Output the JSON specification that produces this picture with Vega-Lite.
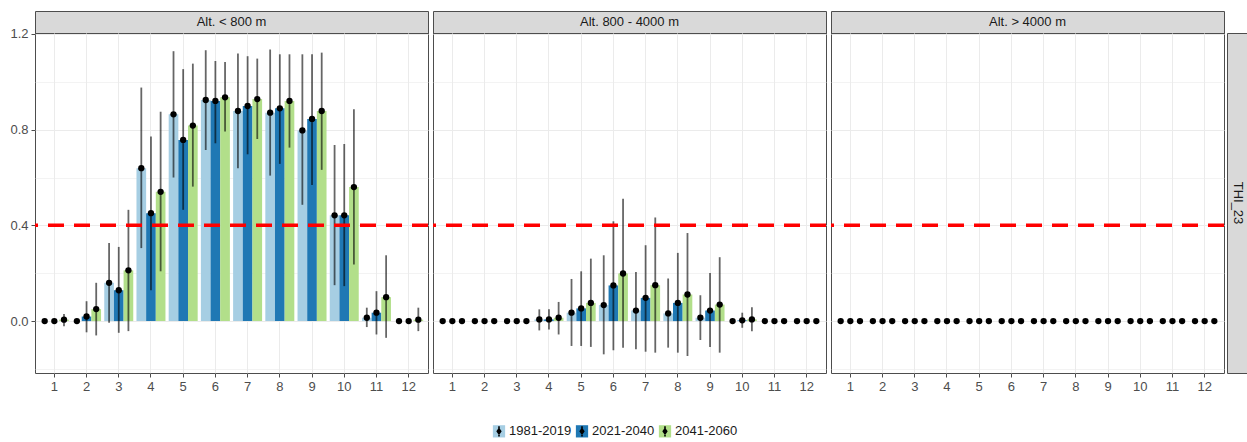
{
  "$schema": "https://vega.github.io/schema/vega-lite/v6.json",
  "padding": {"left": 9, "top": 10, "right": 1, "bottom": 4},
  "config": {
    "font": "Liberation Sans",
    "view": {"stroke": "#4d4d4d", "strokeWidth": 1},
    "axis": {"labelColor": "#4d4d4d", "labelFontSize": 13, "tickColor": "#4d4d4d", "tickSize": 4, "domain": false, "gridColor": "#ebebeb", "title": null, "labelPadding": 3}
  },
  "datasets": {
    "panels": [{"alt": "Alt. < 800 m"}, {"alt": "Alt. 800 - 4000 m"}, {"alt": "Alt. > 4000 m"}],
    "vars": [{"var": "THI_23"}],
    "threshold": [{"y": 0.4}],
    "thi": [
      {"alt":"Alt. < 800 m","month":1,"period":"1981-2019","value":0,"lo":0,"hi":0},
      {"alt":"Alt. < 800 m","month":1,"period":"2021-2040","value":0,"lo":0,"hi":0},
      {"alt":"Alt. < 800 m","month":1,"period":"2041-2060","value":0.006,"lo":-0.022,"hi":0.03},
      {"alt":"Alt. < 800 m","month":2,"period":"1981-2019","value":0,"lo":0,"hi":0},
      {"alt":"Alt. < 800 m","month":2,"period":"2021-2040","value":0.019,"lo":-0.047,"hi":0.083},
      {"alt":"Alt. < 800 m","month":2,"period":"2041-2060","value":0.05,"lo":-0.06,"hi":0.16},
      {"alt":"Alt. < 800 m","month":3,"period":"1981-2019","value":0.16,"lo":-0.007,"hi":0.326},
      {"alt":"Alt. < 800 m","month":3,"period":"2021-2040","value":0.129,"lo":-0.049,"hi":0.31},
      {"alt":"Alt. < 800 m","month":3,"period":"2041-2060","value":0.212,"lo":-0.042,"hi":0.465},
      {"alt":"Alt. < 800 m","month":4,"period":"1981-2019","value":0.639,"lo":0.305,"hi":0.976},
      {"alt":"Alt. < 800 m","month":4,"period":"2021-2040","value":0.451,"lo":0.129,"hi":0.771},
      {"alt":"Alt. < 800 m","month":4,"period":"2041-2060","value":0.54,"lo":0.208,"hi":0.875},
      {"alt":"Alt. < 800 m","month":5,"period":"1981-2019","value":0.864,"lo":0.6,"hi":1.128},
      {"alt":"Alt. < 800 m","month":5,"period":"2021-2040","value":0.757,"lo":0.465,"hi":1.053},
      {"alt":"Alt. < 800 m","month":5,"period":"2041-2060","value":0.817,"lo":0.562,"hi":1.076},
      {"alt":"Alt. < 800 m","month":6,"period":"1981-2019","value":0.924,"lo":0.715,"hi":1.132},
      {"alt":"Alt. < 800 m","month":6,"period":"2021-2040","value":0.92,"lo":0.743,"hi":1.087},
      {"alt":"Alt. < 800 m","month":6,"period":"2041-2060","value":0.935,"lo":0.792,"hi":1.083},
      {"alt":"Alt. < 800 m","month":7,"period":"1981-2019","value":0.878,"lo":0.639,"hi":1.118},
      {"alt":"Alt. < 800 m","month":7,"period":"2021-2040","value":0.899,"lo":0.697,"hi":1.107},
      {"alt":"Alt. < 800 m","month":7,"period":"2041-2060","value":0.928,"lo":0.761,"hi":1.097},
      {"alt":"Alt. < 800 m","month":8,"period":"1981-2019","value":0.871,"lo":0.608,"hi":1.135},
      {"alt":"Alt. < 800 m","month":8,"period":"2021-2040","value":0.889,"lo":0.657,"hi":1.115},
      {"alt":"Alt. < 800 m","month":8,"period":"2041-2060","value":0.92,"lo":0.725,"hi":1.115},
      {"alt":"Alt. < 800 m","month":9,"period":"1981-2019","value":0.797,"lo":0.486,"hi":1.115},
      {"alt":"Alt. < 800 m","month":9,"period":"2021-2040","value":0.845,"lo":0.569,"hi":1.115},
      {"alt":"Alt. < 800 m","month":9,"period":"2041-2060","value":0.878,"lo":0.632,"hi":1.122},
      {"alt":"Alt. < 800 m","month":10,"period":"1981-2019","value":0.442,"lo":0.15,"hi":0.736},
      {"alt":"Alt. < 800 m","month":10,"period":"2021-2040","value":0.442,"lo":0.146,"hi":0.74},
      {"alt":"Alt. < 800 m","month":10,"period":"2041-2060","value":0.56,"lo":0.236,"hi":0.885},
      {"alt":"Alt. < 800 m","month":11,"period":"1981-2019","value":0.014,"lo":-0.025,"hi":0.056},
      {"alt":"Alt. < 800 m","month":11,"period":"2021-2040","value":0.035,"lo":-0.056,"hi":0.125},
      {"alt":"Alt. < 800 m","month":11,"period":"2041-2060","value":0.1,"lo":-0.07,"hi":0.275},
      {"alt":"Alt. < 800 m","month":12,"period":"1981-2019","value":0,"lo":0,"hi":0},
      {"alt":"Alt. < 800 m","month":12,"period":"2021-2040","value":0,"lo":0,"hi":0},
      {"alt":"Alt. < 800 m","month":12,"period":"2041-2060","value":0.006,"lo":-0.042,"hi":0.056},
      {"alt":"Alt. 800 - 4000 m","month":1,"period":"1981-2019","value":0,"lo":0,"hi":0},
      {"alt":"Alt. 800 - 4000 m","month":1,"period":"2021-2040","value":0,"lo":0,"hi":0},
      {"alt":"Alt. 800 - 4000 m","month":1,"period":"2041-2060","value":0,"lo":0,"hi":0},
      {"alt":"Alt. 800 - 4000 m","month":2,"period":"1981-2019","value":0,"lo":0,"hi":0},
      {"alt":"Alt. 800 - 4000 m","month":2,"period":"2021-2040","value":0,"lo":0,"hi":0},
      {"alt":"Alt. 800 - 4000 m","month":2,"period":"2041-2060","value":0,"lo":0,"hi":0},
      {"alt":"Alt. 800 - 4000 m","month":3,"period":"1981-2019","value":0,"lo":0,"hi":0},
      {"alt":"Alt. 800 - 4000 m","month":3,"period":"2021-2040","value":0,"lo":0,"hi":0},
      {"alt":"Alt. 800 - 4000 m","month":3,"period":"2041-2060","value":0,"lo":0,"hi":0},
      {"alt":"Alt. 800 - 4000 m","month":4,"period":"1981-2019","value":0.007,"lo":-0.039,"hi":0.049},
      {"alt":"Alt. 800 - 4000 m","month":4,"period":"2021-2040","value":0.007,"lo":-0.035,"hi":0.049},
      {"alt":"Alt. 800 - 4000 m","month":4,"period":"2041-2060","value":0.014,"lo":-0.056,"hi":0.08},
      {"alt":"Alt. 800 - 4000 m","month":5,"period":"1981-2019","value":0.035,"lo":-0.104,"hi":0.176},
      {"alt":"Alt. 800 - 4000 m","month":5,"period":"2021-2040","value":0.053,"lo":-0.104,"hi":0.208},
      {"alt":"Alt. 800 - 4000 m","month":5,"period":"2041-2060","value":0.076,"lo":-0.108,"hi":0.261},
      {"alt":"Alt. 800 - 4000 m","month":6,"period":"1981-2019","value":0.067,"lo":-0.139,"hi":0.275},
      {"alt":"Alt. 800 - 4000 m","month":6,"period":"2021-2040","value":0.149,"lo":-0.122,"hi":0.417},
      {"alt":"Alt. 800 - 4000 m","month":6,"period":"2041-2060","value":0.199,"lo":-0.111,"hi":0.511},
      {"alt":"Alt. 800 - 4000 m","month":7,"period":"1981-2019","value":0.044,"lo":-0.118,"hi":0.205},
      {"alt":"Alt. 800 - 4000 m","month":7,"period":"2021-2040","value":0.097,"lo":-0.128,"hi":0.317},
      {"alt":"Alt. 800 - 4000 m","month":7,"period":"2041-2060","value":0.15,"lo":-0.132,"hi":0.433},
      {"alt":"Alt. 800 - 4000 m","month":8,"period":"1981-2019","value":0.032,"lo":-0.111,"hi":0.178},
      {"alt":"Alt. 800 - 4000 m","month":8,"period":"2021-2040","value":0.076,"lo":-0.132,"hi":0.285},
      {"alt":"Alt. 800 - 4000 m","month":8,"period":"2041-2060","value":0.111,"lo":-0.146,"hi":0.368},
      {"alt":"Alt. 800 - 4000 m","month":9,"period":"1981-2019","value":0.014,"lo":-0.079,"hi":0.108},
      {"alt":"Alt. 800 - 4000 m","month":9,"period":"2021-2040","value":0.044,"lo":-0.108,"hi":0.201},
      {"alt":"Alt. 800 - 4000 m","month":9,"period":"2041-2060","value":0.069,"lo":-0.132,"hi":0.267},
      {"alt":"Alt. 800 - 4000 m","month":10,"period":"1981-2019","value":0,"lo":0,"hi":0},
      {"alt":"Alt. 800 - 4000 m","month":10,"period":"2021-2040","value":0.003,"lo":-0.028,"hi":0.035},
      {"alt":"Alt. 800 - 4000 m","month":10,"period":"2041-2060","value":0.007,"lo":-0.042,"hi":0.058},
      {"alt":"Alt. 800 - 4000 m","month":11,"period":"1981-2019","value":0,"lo":0,"hi":0},
      {"alt":"Alt. 800 - 4000 m","month":11,"period":"2021-2040","value":0,"lo":0,"hi":0},
      {"alt":"Alt. 800 - 4000 m","month":11,"period":"2041-2060","value":0,"lo":0,"hi":0},
      {"alt":"Alt. 800 - 4000 m","month":12,"period":"1981-2019","value":0,"lo":0,"hi":0},
      {"alt":"Alt. 800 - 4000 m","month":12,"period":"2021-2040","value":0,"lo":0,"hi":0},
      {"alt":"Alt. 800 - 4000 m","month":12,"period":"2041-2060","value":0,"lo":0,"hi":0},
      {"alt":"Alt. > 4000 m","month":1,"period":"1981-2019","value":0,"lo":0,"hi":0},
      {"alt":"Alt. > 4000 m","month":1,"period":"2021-2040","value":0,"lo":0,"hi":0},
      {"alt":"Alt. > 4000 m","month":1,"period":"2041-2060","value":0,"lo":0,"hi":0},
      {"alt":"Alt. > 4000 m","month":2,"period":"1981-2019","value":0,"lo":0,"hi":0},
      {"alt":"Alt. > 4000 m","month":2,"period":"2021-2040","value":0,"lo":0,"hi":0},
      {"alt":"Alt. > 4000 m","month":2,"period":"2041-2060","value":0,"lo":0,"hi":0},
      {"alt":"Alt. > 4000 m","month":3,"period":"1981-2019","value":0,"lo":0,"hi":0},
      {"alt":"Alt. > 4000 m","month":3,"period":"2021-2040","value":0,"lo":0,"hi":0},
      {"alt":"Alt. > 4000 m","month":3,"period":"2041-2060","value":0,"lo":0,"hi":0},
      {"alt":"Alt. > 4000 m","month":4,"period":"1981-2019","value":0,"lo":0,"hi":0},
      {"alt":"Alt. > 4000 m","month":4,"period":"2021-2040","value":0,"lo":0,"hi":0},
      {"alt":"Alt. > 4000 m","month":4,"period":"2041-2060","value":0,"lo":0,"hi":0},
      {"alt":"Alt. > 4000 m","month":5,"period":"1981-2019","value":0,"lo":0,"hi":0},
      {"alt":"Alt. > 4000 m","month":5,"period":"2021-2040","value":0,"lo":0,"hi":0},
      {"alt":"Alt. > 4000 m","month":5,"period":"2041-2060","value":0,"lo":0,"hi":0},
      {"alt":"Alt. > 4000 m","month":6,"period":"1981-2019","value":0,"lo":0,"hi":0},
      {"alt":"Alt. > 4000 m","month":6,"period":"2021-2040","value":0,"lo":0,"hi":0},
      {"alt":"Alt. > 4000 m","month":6,"period":"2041-2060","value":0,"lo":0,"hi":0},
      {"alt":"Alt. > 4000 m","month":7,"period":"1981-2019","value":0,"lo":0,"hi":0},
      {"alt":"Alt. > 4000 m","month":7,"period":"2021-2040","value":0,"lo":0,"hi":0},
      {"alt":"Alt. > 4000 m","month":7,"period":"2041-2060","value":0,"lo":0,"hi":0},
      {"alt":"Alt. > 4000 m","month":8,"period":"1981-2019","value":0,"lo":0,"hi":0},
      {"alt":"Alt. > 4000 m","month":8,"period":"2021-2040","value":0,"lo":0,"hi":0},
      {"alt":"Alt. > 4000 m","month":8,"period":"2041-2060","value":0,"lo":0,"hi":0},
      {"alt":"Alt. > 4000 m","month":9,"period":"1981-2019","value":0,"lo":0,"hi":0},
      {"alt":"Alt. > 4000 m","month":9,"period":"2021-2040","value":0,"lo":0,"hi":0},
      {"alt":"Alt. > 4000 m","month":9,"period":"2041-2060","value":0,"lo":0,"hi":0},
      {"alt":"Alt. > 4000 m","month":10,"period":"1981-2019","value":0,"lo":0,"hi":0},
      {"alt":"Alt. > 4000 m","month":10,"period":"2021-2040","value":0,"lo":0,"hi":0},
      {"alt":"Alt. > 4000 m","month":10,"period":"2041-2060","value":0,"lo":0,"hi":0},
      {"alt":"Alt. > 4000 m","month":11,"period":"1981-2019","value":0,"lo":0,"hi":0},
      {"alt":"Alt. > 4000 m","month":11,"period":"2021-2040","value":0,"lo":0,"hi":0},
      {"alt":"Alt. > 4000 m","month":11,"period":"2041-2060","value":0,"lo":0,"hi":0},
      {"alt":"Alt. > 4000 m","month":12,"period":"1981-2019","value":0,"lo":0,"hi":0},
      {"alt":"Alt. > 4000 m","month":12,"period":"2021-2040","value":0,"lo":0,"hi":0},
      {"alt":"Alt. > 4000 m","month":12,"period":"2041-2060","value":0,"lo":0,"hi":0}
    ]
  },
  "spacing": -4,
  "hconcat": [
    {
      "spacing": -1,
      "hconcat": [
        {
          "vconcat": [
            {"width": 393, "height": 22, "data": {"name": "panels"}, "transform": [{"filter": {"field": "alt", "equal": "Alt. < 800 m"}}], "mark": {"type": "text", "fontSize": 13, "color": "#1a1a1a"}, "encoding": {"text": {"field": "alt"}}, "view": {"fill": "#d9d9d9", "stroke": "#4d4d4d"}},
            {
              "width": 393, "height": 340,
              "layer": [
                {
                  "data": {"name": "thi"},
                  "transform": [{"filter": {"field": "alt", "equal": "Alt. < 800 m"}}],
                  "encoding": {
                    "x": {"field": "month", "type": "ordinal", "scale": {"domain": [1,2,3,4,5,6,7,8,9,10,11,12], "paddingInner": 0, "paddingOuter": 0.1}, "axis": {"bandPosition": 0.5, "labelAngle": 0, "grid": true, "gridColor": "#ebebeb"}},
                    "xOffset": {"field": "period", "type": "nominal", "scale": {"domain": ["1981-2019","2021-2040","2041-2060"], "paddingInner": 0, "paddingOuter": 0.1667}}
                  },
                  "layer": [
                    {"mark": {"type": "bar"}, "encoding": {
                      "y": {"field": "value", "type": "quantitative", "scale": {"domain": [-0.217, 1.204], "nice": false, "zero": false}, "axis": {"values": [-0.2,0,0.2,0.4,0.6,0.8,1,1.2], "labelExpr": "abs(round(datum.value*10)) % 4 == 0 ? format(datum.value, '.1f') : ''", "tickOpacity": {"condition": {"test": "abs(round(datum.value*10)) % 4 == 0", "value": 1}, "value": 0}, "gridWidth": {"condition": {"test": "abs(round(datum.value*10)) % 4 == 0", "value": 1.1}, "value": 0.6}}},
                      "fill": {"field": "period", "type": "nominal", "scale": {"domain": ["1981-2019","2021-2040","2041-2060"], "range": ["#a6cee3","#1f78b4","#b2df8a"]}, "legend": {"orient": "none", "legendX": 457, "legendY": 413, "direction": "horizontal", "title": null, "symbolType": "square", "symbolSize": 150, "symbolStrokeWidth": 1.6, "symbolStrokeColor": "transparent", "labelFontSize": 13, "labelColor": "#1a1a1a", "columnPadding": 0, "labelOffset": 3, "zindex": 0}}
                    }},
                    {"mark": {"type": "rule", "opacity": 0.6, "strokeWidth": 1.8}, "encoding": {"y": {"field": "lo", "type": "quantitative"}, "y2": {"field": "hi"},
                      "stroke": {"field": "period", "type": "nominal", "scale": {"range": ["black","black","black"]}, "legend": {"orient": "none", "legendX": 457, "legendY": 413, "direction": "horizontal", "title": null, "symbolType": "M-1,-1M1,1M0,-0.85L0,0.85M0,-0.4L0.28,0L0,0.4L-0.28,0Z", "symbolSize": 150, "symbolStrokeWidth": 1.6, "symbolStrokeColor": "black", "symbolFillColor": "black", "symbolOpacity": 1, "labelFontSize": 13, "labelExpr": "''", "columnPadding": 0, "labelOffset": 65.15, "zindex": 1}}}},
                    {"mark": {"type": "point", "filled": true, "color": "black", "opacity": 1, "size": 40}, "encoding": {"y": {"field": "value", "type": "quantitative"}}}
                  ]
                },
                {"data": {"name": "threshold"}, "mark": {"type": "rule", "color": "#ff0000", "strokeWidth": 3.5, "strokeDash": [16, 10]}, "encoding": {"y": {"field": "y", "type": "quantitative"}}}
              ]
            }
          ],
          "spacing": 0,
          "bounds": "flush"
        },
        {
          "vconcat": [
            {"width": 393, "height": 22, "data": {"name": "panels"}, "transform": [{"filter": {"field": "alt", "equal": "Alt. 800 - 4000 m"}}], "mark": {"type": "text", "fontSize": 13, "color": "#1a1a1a"}, "encoding": {"text": {"field": "alt"}}, "view": {"fill": "#d9d9d9", "stroke": "#4d4d4d"}},
            {
              "width": 393, "height": 340,
              "layer": [
                {
                  "data": {"name": "thi"},
                  "transform": [{"filter": {"field": "alt", "equal": "Alt. 800 - 4000 m"}}],
                  "encoding": {
                    "x": {"field": "month", "type": "ordinal", "scale": {"domain": [1,2,3,4,5,6,7,8,9,10,11,12], "paddingInner": 0, "paddingOuter": 0.1}, "axis": {"bandPosition": 0.5, "labelAngle": 0, "grid": true, "gridColor": "#ebebeb"}},
                    "xOffset": {"field": "period", "type": "nominal", "scale": {"domain": ["1981-2019","2021-2040","2041-2060"], "paddingInner": 0, "paddingOuter": 0.1667}}
                  },
                  "layer": [
                    {"mark": {"type": "bar"}, "encoding": {
                      "y": {"field": "value", "type": "quantitative", "scale": {"domain": [-0.217, 1.204], "nice": false, "zero": false}, "axis": {"values": [-0.2,0,0.2,0.4,0.6,0.8,1,1.2], "labels": false, "ticks": false, "minExtent": 0, "gridWidth": {"condition": {"test": "abs(round(datum.value*10)) % 4 == 0", "value": 1.1}, "value": 0.6}}},
                      "fill": {"field": "period", "type": "nominal", "scale": {"domain": ["1981-2019","2021-2040","2041-2060"], "range": ["#a6cee3","#1f78b4","#b2df8a"]}, "legend": {"orient": "none", "legendX": 457, "legendY": 413, "direction": "horizontal", "title": null, "symbolType": "square", "symbolSize": 150, "symbolStrokeWidth": 1.6, "symbolStrokeColor": "transparent", "labelFontSize": 13, "labelColor": "#1a1a1a", "columnPadding": 0, "labelOffset": 3, "zindex": 0}}
                    }},
                    {"mark": {"type": "rule", "color": "black", "opacity": 0.6, "strokeWidth": 1.8}, "encoding": {"y": {"field": "lo", "type": "quantitative"}, "y2": {"field": "hi"}}},
                    {"mark": {"type": "point", "filled": true, "color": "black", "opacity": 1, "size": 40}, "encoding": {"y": {"field": "value", "type": "quantitative"}}}
                  ]
                },
                {"data": {"name": "threshold"}, "mark": {"type": "rule", "color": "#ff0000", "strokeWidth": 3.5, "strokeDash": [16, 10]}, "encoding": {"y": {"field": "y", "type": "quantitative"}}}
              ]
            }
          ],
          "spacing": 0,
          "bounds": "flush"
        },
        {
          "vconcat": [
            {"width": 393, "height": 22, "data": {"name": "panels"}, "transform": [{"filter": {"field": "alt", "equal": "Alt. > 4000 m"}}], "mark": {"type": "text", "fontSize": 13, "color": "#1a1a1a"}, "encoding": {"text": {"field": "alt"}}, "view": {"fill": "#d9d9d9", "stroke": "#4d4d4d"}},
            {
              "width": 393, "height": 340,
              "layer": [
                {
                  "data": {"name": "thi"},
                  "transform": [{"filter": {"field": "alt", "equal": "Alt. > 4000 m"}}],
                  "encoding": {
                    "x": {"field": "month", "type": "ordinal", "scale": {"domain": [1,2,3,4,5,6,7,8,9,10,11,12], "paddingInner": 0, "paddingOuter": 0.1}, "axis": {"bandPosition": 0.5, "labelAngle": 0, "grid": true, "gridColor": "#ebebeb"}},
                    "xOffset": {"field": "period", "type": "nominal", "scale": {"domain": ["1981-2019","2021-2040","2041-2060"], "paddingInner": 0, "paddingOuter": 0.1667}}
                  },
                  "layer": [
                    {"mark": {"type": "bar"}, "encoding": {
                      "y": {"field": "value", "type": "quantitative", "scale": {"domain": [-0.217, 1.204], "nice": false, "zero": false}, "axis": {"values": [-0.2,0,0.2,0.4,0.6,0.8,1,1.2], "labels": false, "ticks": false, "minExtent": 0, "gridWidth": {"condition": {"test": "abs(round(datum.value*10)) % 4 == 0", "value": 1.1}, "value": 0.6}}},
                      "fill": {"field": "period", "type": "nominal", "scale": {"domain": ["1981-2019","2021-2040","2041-2060"], "range": ["#a6cee3","#1f78b4","#b2df8a"]}, "legend": {"orient": "none", "legendX": 457, "legendY": 413, "direction": "horizontal", "title": null, "symbolType": "square", "symbolSize": 150, "symbolStrokeWidth": 1.6, "symbolStrokeColor": "transparent", "labelFontSize": 13, "labelColor": "#1a1a1a", "columnPadding": 0, "labelOffset": 3, "zindex": 0}}
                    }},
                    {"mark": {"type": "rule", "color": "black", "opacity": 0.6, "strokeWidth": 1.8}, "encoding": {"y": {"field": "lo", "type": "quantitative"}, "y2": {"field": "hi"}}},
                    {"mark": {"type": "point", "filled": true, "color": "black", "opacity": 1, "size": 40}, "encoding": {"y": {"field": "value", "type": "quantitative"}}}
                  ]
                },
                {"data": {"name": "threshold"}, "mark": {"type": "rule", "color": "#ff0000", "strokeWidth": 3.5, "strokeDash": [16, 10]}, "encoding": {"y": {"field": "y", "type": "quantitative"}}}
              ]
            }
          ],
          "spacing": 0,
          "bounds": "flush"
        }
      ]
    },
    {
      "vconcat": [
        {"width": 21, "height": 22, "data": {"name": "vars"}, "mark": {"type": "text", "fontSize": 13, "color": "#1a1a1a"}, "encoding": {"text": {"value": ""}}, "view": {"stroke": null}},
        {"width": 21, "height": 340, "data": {"name": "vars"}, "mark": {"type": "text", "fontSize": 13, "color": "#1a1a1a", "angle": 90}, "encoding": {"text": {"field": "var"}}, "view": {"fill": "#d9d9d9", "stroke": "#4d4d4d"}}
      ],
      "spacing": 0,
      "bounds": "flush"
    }
  ]
}
